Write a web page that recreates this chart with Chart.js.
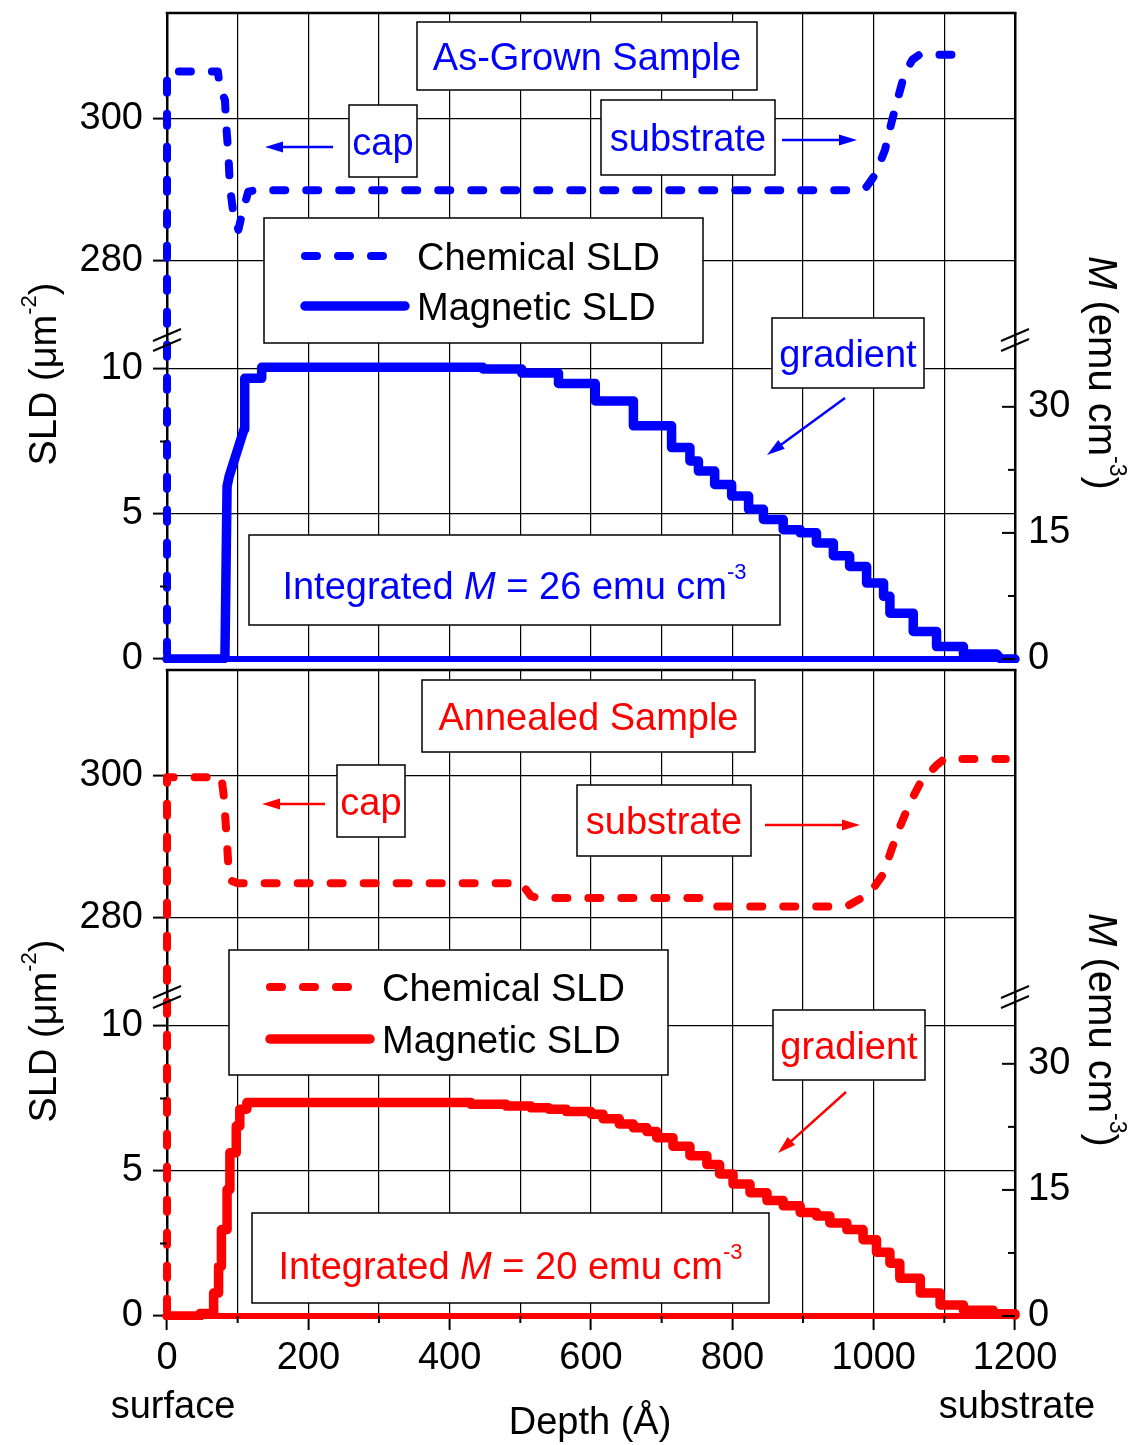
<!DOCTYPE html>
<html lang="en">
<head>
<meta charset="UTF-8">
<title>SLD depth profiles - as-grown and annealed</title>
<script src="https://cdn.jsdelivr.net/npm/chart.js"></script>
<style>
    * { margin: 0; padding: 0; box-sizing: border-box; }
    body { width: 1146px; height: 1445px; background: #fff; position: relative; overflow: hidden; }
    canvas { position: absolute; left: 0; }
    #asGrown { top: 0; }
    #annealed { top: 650px; }
</style>
</head>
<body>
<canvas id="asGrown" width="1146" height="700"></canvas>
<canvas id="annealed" width="1146" height="795"></canvas>
<script>
// ---- axis ticks ----
const depthGrid = [0, 100, 200, 300, 400, 500, 600, 700, 800, 900, 1000, 1100, 1200];
const depthTicks = [0, 200, 400, 600, 800, 1000, 1200];
const chemTicks = [280, 300];
const magTicks = [0, 5, 10];
const magMinorTicks = [2.5, 7.5];
const momentTicks = [0, 15, 30];
const momentMinorTicks = [7.5, 22.5];
const SLD_TO_M = 3.45; // emu cm^-3 per unit of magnetic SLD

// ---- as-grown sample: [depth (A), SLD] ----
const asGrownChemical = [[0, 0], [0, 306.7], [72, 306.7], [75, 304.3], [82, 302.7], [84, 298.9], [87, 294.7],
    [89, 290.4], [94, 286.6], [101, 284.3], [106, 286.5], [115, 289.7], [125, 289.9], [980, 289.9], [990, 290.4],
    [1002, 292.1], [1016, 295.6], [1025, 299.4], [1035, 303.2], [1044, 306.5], [1055, 308.4], [1065, 309.1], [1122, 309.1]];
const asGrownMagnetic = [[0, 0], [80, 0], [82, 0.1], [85, 5.96], [88, 6.3], [109, 7.92], [110, 9.68], [134, 9.68],
    [134, 10.06], [447, 10.06], [447, 10.0], [502, 10.0], [502, 9.86], [554, 9.86], [554, 9.5], [606, 9.5],
    [606, 8.9], [660, 8.9], [660, 8.04], [714, 8.04], [714, 7.29], [740, 7.29], [740, 6.83], [752, 6.83],
    [752, 6.48], [775, 6.48], [775, 6.02], [799, 6.02], [799, 5.62], [823, 5.62], [823, 5.16], [844, 5.16],
    [844, 4.81], [872, 4.81], [872, 4.46], [896, 4.46], [896, 4.35], [919, 4.35], [919, 4.0], [943, 4.0],
    [943, 3.56], [966, 3.56], [966, 3.19], [990, 3.19], [990, 2.62], [1014, 2.62], [1014, 2.16], [1023, 2.16],
    [1023, 1.58], [1056, 1.58], [1056, 0.95], [1089, 0.95], [1089, 0.43], [1127, 0.43], [1127, 0.17], [1174, 0.17],
    [1180, 0], [1200, 0]];

// ---- annealed sample ----
const annealedChemical = [[0, 0], [0, 299.8], [77, 299.8], [80, 297.5], [84, 292], [87, 287], [90, 285.2],
    [100, 284.8], [500, 284.8], [506, 284.2], [515, 283.0], [525, 282.7], [758, 282.7], [768, 281.7], [775, 281.5],
    [932, 281.5], [965, 281.7], [995, 283.4], [1014, 286.2], [1025, 289.5], [1035, 292.3], [1051, 296.1],
    [1068, 299.4], [1090, 301.6], [1100, 302.4], [1187, 302.4]];
// slab model: value holds from each depth to the next one
const annealedMagnetic = [[0, 0], [47, 0.09], [66, 0.79], [73, 1.71], [77, 2.98], [85, 4.36], [89, 5.63],
    [98, 6.55], [103, 7.13], [113, 7.36], [430, 7.30], [480, 7.24], [515, 7.18], [540, 7.13], [565, 7.05],
    [600, 6.96], [617, 6.80], [640, 6.62], [660, 6.49], [679, 6.36], [693, 6.15], [716, 5.85], [740, 5.53],
    [764, 5.22], [782, 4.90], [801, 4.55], [825, 4.25], [849, 3.98], [872, 3.80], [896, 3.57], [919, 3.45],
    [938, 3.21], [962, 2.98], [985, 2.63], [1004, 2.20], [1023, 1.82], [1037, 1.30], [1066, 0.79], [1094, 0.38],
    [1127, 0.20], [1169, 0.08], [1200, 0.03]];

const zeroLine = [[0, 0], [1200, 0]];

const FONT = '"Liberation Sans", Arial, Helvetica, sans-serif';
const BLUE = '#0000ff';
const RED = '#ff0000';
const DASH = [12, 21];

const pts = pairs => pairs.map(p => ({ x: p[0], y: p[1] }));
const fixTicks = list => scale => { scale.ticks = list.map(v => ({ value: v })); };

// fixed axis box sizes, without the label overhang padding
function fitBox(w, h) {
    return s => {
        if (w !== null) s.width = w;
        if (h !== null) s.height = h;
        s.paddingTop = s.paddingBottom = s.paddingLeft = s.paddingRight = 0;
    };
}

// ---- text helpers (italic runs and superscripts) ----
function runFont(r, size) {
    const s = r.sup ? Math.round(size * 0.58) : size;
    return (r.it ? 'italic ' : '') + s + 'px ' + FONT;
}

function drawRuns(ctx, runs, x, y, size, color) {
    let w = 0;
    runs.forEach(r => { ctx.font = runFont(r, size); w += ctx.measureText(r.t).width; });
    let cx = x - w / 2;
    ctx.fillStyle = color;
    ctx.textAlign = 'left';
    ctx.textBaseline = 'alphabetic';
    runs.forEach(r => {
        ctx.font = runFont(r, size);
        ctx.fillText(r.t, cx, r.sup ? y - size * 0.52 : y);
        cx += ctx.measureText(r.t).width;
    });
}

function drawArrow(ctx, x1, y1, x2, y2, color) {
    const a = Math.atan2(y2 - y1, x2 - x1);
    const head = 18, half = 5.5;
    ctx.strokeStyle = color;
    ctx.fillStyle = color;
    ctx.lineWidth = 2.5;
    ctx.beginPath();
    ctx.moveTo(x1, y1);
    ctx.lineTo(x2 - Math.cos(a) * head * 0.8, y2 - Math.sin(a) * head * 0.8);
    ctx.stroke();
    ctx.beginPath();
    ctx.moveTo(x2, y2);
    ctx.lineTo(x2 - Math.cos(a) * head - Math.sin(a) * half, y2 - Math.sin(a) * head + Math.cos(a) * half);
    ctx.lineTo(x2 - Math.cos(a) * head + Math.sin(a) * half, y2 - Math.sin(a) * head - Math.cos(a) * half);
    ctx.closePath();
    ctx.fill();
}

function drawBox(ctx, b, ox, oy, color) {
    ctx.fillStyle = '#fff';
    ctx.fillRect(ox + b.x, oy + b.y, b.w, b.h);
    ctx.strokeStyle = '#000';
    ctx.lineWidth = 1.5;
    ctx.strokeRect(ox + b.x, oy + b.y, b.w, b.h);
    if (b.runs) {
        drawRuns(ctx, b.runs, ox + b.x + b.w / 2, oy + b.y + b.h / 2 + 38 * 0.36 + (b.dy || 0), 38, color);
    }
}

function line(ctx, x1, y1, x2, y2, w) {
    ctx.strokeStyle = '#000';
    ctx.lineWidth = w;
    ctx.beginPath();
    ctx.moveTo(x1, y1);
    ctx.lineTo(x2, y2);
    ctx.stroke();
}

// everything drawn on top of the plot: frame, minor ticks, breaks, titles, notes
function decorPlugin(notes, color, withDepthLabels) {
    return {
        id: 'decor',
        afterDraw(chart) {
            const ctx = chart.ctx;
            const area = chart.chartArea;
            const s = chart.scales;
            ctx.save();
            ctx.lineCap = 'butt';

            // top frame
            line(ctx, area.left - 1.25, area.top, area.right + 1.25, area.top, 2.5);

            // minor ticks on the magnetic part of the left axis
            magMinorTicks.forEach(v => {
                const y = s.yMag.getPixelForValue(v);
                line(ctx, area.left - 7, y, area.left, y, 2);
            });
            // inward ticks of the M axis
            momentTicks.forEach(v => {
                const y = s.rM.getPixelForValue(v);
                line(ctx, area.right - 13, y, area.right, y, 2);
            });
            momentMinorTicks.forEach(v => {
                const y = s.rM.getPixelForValue(v);
                line(ctx, area.right - 7, y, area.right, y, 2);
            });
            if (withDepthLabels) {
                depthGrid.filter(v => !depthTicks.includes(v)).forEach(v => {
                    const x = s.x.getPixelForValue(v);
                    line(ctx, x, area.bottom, x, area.bottom + 7, 2);
                });
            }

            // axis breaks
            const yb = s.yChem.bottom;
            [area.left, area.right].forEach(x => {
                [-5, 5].forEach(d => line(ctx, x - 14, yb + d + 6, x + 14, yb + d - 6, 2));
            });

            // axis titles
            const midY = area.top + 361;
            ctx.save();
            ctx.translate(56, midY);
            ctx.rotate(-Math.PI / 2);
            drawRuns(ctx, [{ t: 'SLD (\u03bcm' }, { t: '-2', sup: true }, { t: ')' }], 0, 0, 38, '#000');
            ctx.restore();
            ctx.save();
            ctx.translate(1089, midY - 1);
            ctx.rotate(Math.PI / 2);
            drawRuns(ctx, [{ t: 'M', it: true }, { t: ' (emu cm' }, { t: '-3', sup: true }, { t: ')' }], 0, 0, 40, '#000');
            ctx.restore();

            // boxes, arrows and legend
            const ox = area.left, oy = area.top;
            notes.boxes.forEach(b => drawBox(ctx, b, ox, oy, color));
            notes.arrows.forEach(a => drawArrow(ctx, ox + a[0], oy + a[1], ox + a[2], oy + a[3], color));

            const lg = notes.legend;
            drawBox(ctx, lg, ox, oy, color);
            ctx.strokeStyle = color;
            ctx.lineCap = 'round';
            ctx.lineWidth = 8;
            ctx.setLineDash(DASH);
            ctx.beginPath();
            ctx.moveTo(ox + lg.lineX, oy + lg.row1);
            ctx.lineTo(ox + lg.lineX + 85, oy + lg.row1);
            ctx.stroke();
            ctx.setLineDash([]);
            ctx.lineWidth = 9.5;
            ctx.beginPath();
            ctx.moveTo(ox + lg.lineX, oy + lg.row2);
            ctx.lineTo(ox + lg.lineX + 100, oy + lg.row2);
            ctx.stroke();
            ctx.font = '38px ' + FONT;
            ctx.fillStyle = '#000';
            ctx.textAlign = 'left';
            ctx.textBaseline = 'alphabetic';
            ctx.fillText('Chemical SLD', ox + lg.textX, oy + lg.row1 + 13.7);
            ctx.fillText('Magnetic SLD', ox + lg.textX, oy + lg.row2 + 13.7);

            if (withDepthLabels) {
                ctx.font = '38px ' + FONT;
                ctx.textAlign = 'center';
                ctx.fillText('surface', s.x.getPixelForValue(0) + 6, area.bottom + 102);
                ctx.fillText('substrate', s.x.getPixelForValue(1200) + 2, area.bottom + 102);
                ctx.fillText('Depth (\u00c5)', 590, area.bottom + 118);
            }
            ctx.restore();
        }
    };
}

function makePanel(id, opt) {
    const tickFont = { family: FONT, size: 38 };
    const grid = { color: '#000', lineWidth: 1.2, tickLength: 14, tickWidth: 2, tickColor: '#000' };
    const border = { color: '#000', width: 2.5 };
    const lineStyle = { borderColor: opt.color, pointRadius: 0, tension: 0, fill: false,
        borderCapStyle: 'round', borderJoinStyle: 'round', clip: { left: 5, right: 5, top: 0, bottom: 4 } };

    return new Chart(document.getElementById(id), {
        type: 'line',
        data: {
            datasets: [
                Object.assign({ label: 'Chemical SLD', data: pts(opt.chem), yAxisID: 'yChem',
                    borderWidth: 8, borderDash: DASH }, lineStyle),
                Object.assign({ label: 'Magnetic SLD', data: pts(opt.mag), yAxisID: 'yMag',
                    borderWidth: 9.5, stepped: opt.stepped }, lineStyle),
                Object.assign({ label: 'zero', data: pts(zeroLine), yAxisID: 'yMag', borderWidth: 6 }, lineStyle)
            ]
        },
        options: {
            responsive: false,
            animation: false,
            events: [],
            layout: { autoPadding: false, padding: { top: opt.top, left: 0, right: 0, bottom: 0 } },
            plugins: { legend: { display: false }, tooltip: { enabled: false } },
            scales: {
                x: {
                    type: 'linear', min: 0, max: 1200,
                    afterBuildTicks: fixTicks(depthGrid),
                    ticks: { display: opt.labels, autoSkip: false, maxRotation: 0, font: tickFont, color: '#000',
                        padding: 6, callback: v => depthTicks.includes(v) ? String(v) : '' },
                    grid: Object.assign({}, grid, { drawTicks: opt.labels,
                        tickColor: c => depthTicks.includes(c.tick.value) ? '#000' : 'rgba(0,0,0,0)' }),
                    border: border,
                    afterFit: fitBox(null, opt.xHeight)
                },
                // the chemical profile drops to zero at the surface, so it may run past the break
                yChem: {
                    type: 'linear', position: 'left', stack: 'sld', stackWeight: 327, weight: 2,
                    min: 268.7, max: 315, clip: false,
                    afterBuildTicks: fixTicks(chemTicks),
                    ticks: { font: tickFont, color: '#000', padding: 10 },
                    grid: grid, border: border,
                    afterFit: fitBox(167, null)
                },
                yMag: {
                    type: 'linear', position: 'left', stack: 'sld', stackWeight: 319, weight: 1,
                    min: 0, max: 11,
                    afterBuildTicks: fixTicks(magTicks),
                    ticks: { font: tickFont, color: '#000', padding: 10 },
                    grid: grid, border: border,
                    afterFit: fitBox(167, null)
                },
                rFrame: {
                    type: 'linear', position: 'right', stack: 'm', stackWeight: 327, weight: 1,
                    min: 0, max: 1,
                    ticks: { display: false },
                    grid: { drawOnChartArea: false, drawTicks: false }, border: border,
                    afterFit: fitBox(131, null)
                },
                rM: {
                    type: 'linear', position: 'right', stack: 'm', stackWeight: 319, weight: 2,
                    min: 0, max: 11 * SLD_TO_M,
                    afterBuildTicks: fixTicks(momentTicks),
                    ticks: { font: tickFont, color: '#000', padding: 13 },
                    grid: { drawOnChartArea: false, drawTicks: false }, border: border,
                    afterFit: fitBox(131, null)
                }
            }
        },
        plugins: [decorPlugin(opt.notes, opt.color, opt.labels)]
    });
}

const integrated = m => [{ t: 'Integrated ' }, { t: 'M', it: true }, { t: ' = ' + m + ' emu cm' }, { t: '-3', sup: true }];

makePanel('asGrown', {
    color: BLUE, chem: asGrownChemical, mag: asGrownMagnetic, stepped: false,
    top: 13, xHeight: 41, labels: false,
    notes: {
        boxes: [
            { x: 250, y: 9, w: 340, h: 68, runs: [{ t: 'As-Grown Sample' }] },
            { x: 182, y: 92, w: 68, h: 72, runs: [{ t: 'cap' }] },
            { x: 434, y: 87, w: 174, h: 75, runs: [{ t: 'substrate' }] },
            { x: 605, y: 305, w: 152, h: 70, runs: [{ t: 'gradient' }] },
            { x: 82, y: 522, w: 531, h: 90, dy: 5, runs: integrated(26) }
        ],
        arrows: [[166, 134, 98, 134], [615, 127, 690, 127], [678, 385, 600, 442]],
        legend: { x: 97, y: 205, w: 439, h: 125, lineX: 138, textX: 250, row1: 243, row2: 293 }
    }
});

makePanel('annealed', {
    color: RED, chem: annealedChemical, mag: annealedMagnetic, stepped: true,
    top: 20, xHeight: 129, labels: true,
    notes: {
        boxes: [
            { x: 255, y: 10, w: 333, h: 72, runs: [{ t: 'Annealed Sample' }] },
            { x: 170, y: 95, w: 68, h: 72, runs: [{ t: 'cap' }] },
            { x: 410, y: 115, w: 174, h: 71, runs: [{ t: 'substrate' }] },
            { x: 606, y: 340, w: 152, h: 70, runs: [{ t: 'gradient' }] },
            { x: 85, y: 543, w: 517, h: 90, dy: 7, runs: integrated(20) }
        ],
        arrows: [[158, 134, 95, 134], [598, 155, 693, 155], [679, 422, 611, 483]],
        legend: { x: 62, y: 280, w: 439, h: 125, lineX: 103, textX: 215, row1: 317, row2: 369 }
    }
});
</script>
</body>
</html>
